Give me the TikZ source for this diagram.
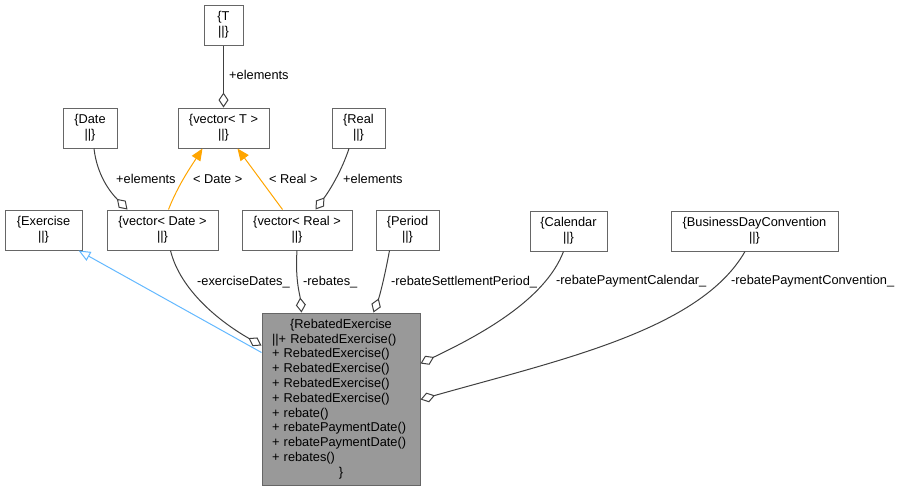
\documentclass[tikz,border=0pt]{standalone}
\usepackage{fontspec}
\setmainfont{Liberation Sans}
\usetikzlibrary{arrows.meta,calc}
\definecolor{boxc}{HTML}{666666}
\definecolor{edgec}{HTML}{404040}
\definecolor{mainfill}{HTML}{999999}
\definecolor{tmplc}{HTML}{FFA500}
\definecolor{inhc}{HTML}{63B8FF}
\begin{document}
\begin{tikzpicture}[x=1pt,y=-1pt,
  every node/.style={font=\fontsize{12.8}{14.8}\selectfont},
  cls/.style={draw=boxc,line width=1pt,fill=white,minimum height=40pt,inner sep=0pt,align=center},
  agg/.style={draw=edgec,line width=1pt,-{Diamond[open,length=15pt,width=10pt]}},
  tmpl/.style={draw=tmplc,line width=1pt,-{Triangle[length=12pt,width=10pt,fill=tmplc]}},
  inh/.style={draw=inhc,line width=1pt,-{Triangle[open,length=12pt,width=10pt,fill=white]}},
  lbl/.style={anchor=base west,inner sep=0pt}]
\useasboundingbox (0,0) rectangle (900,491);

\node[cls,minimum width=39pt] (T) at (223.5,25) {\{T\\||\}};
\node[cls,minimum width=91pt] (vT) at (223.5,128) {\{vector< T >\\||\}};
\node[cls,minimum width=54pt] (Date) at (90,128) {\{Date\\||\}};
\node[cls,minimum width=53pt] (Real) at (358.5,128) {\{Real\\||\}};
\node[cls,minimum width=77pt] (Ex) at (43.5,230) {\{Exercise\\||\}};
\node[cls,minimum width=111pt] (vDate) at (162.5,230) {\{vector< Date >\\||\}};
\node[cls,minimum width=110pt] (vReal) at (297,230) {\{vector< Real >\\||\}};
\node[cls,minimum width=63pt] (Per) at (407.5,230) {\{Period\\||\}};
\node[cls,minimum width=77pt] (Cal) at (568.5,231) {\{Calendar\\||\}};
\node[cls,minimum width=167pt] (BDC) at (754.5,231) {\{BusinessDayConvention\\||\}};

\node[draw=boxc,line width=1pt,fill=mainfill,minimum width=158pt,minimum height=172pt,
      inner xsep=10pt,inner ysep=0pt,text width=138pt,align=left] (RE) at (341,399)
{{\centering\{RebatedExercise\par}
||+ RebatedExercise()\\
+ RebatedExercise()\\
+ RebatedExercise()\\
+ RebatedExercise()\\
+ RebatedExercise()\\
+ rebate()\\
+ rebatePaymentDate()\\
+ rebatePaymentDate()\\
+ rebates()\par
{\centering\}\par}};

% T -> vector<T>
\draw[agg] (T.south) -- (vT.north);
\node[lbl] (l1) at (229,79.5) {+elements};

% Date -> vector<Date>
\draw[agg] ([xshift=4pt]Date.south) .. controls (97,175) and (110,192) .. ([xshift=21pt]vDate.north west);
\node[lbl] (l2) at (116,183.5) {+elements};

% vector<Date> -> vector<T>
\draw[tmpl] ([xshift=62pt]vDate.north west) .. controls (178,185) and (192,165) .. ([xshift=25pt]vT.south west);
\node[lbl] (l3) at (193,183.5) {< Date >};

% vector<Real> -> vector<T>
\draw[tmpl] ([xshift=41pt]vReal.north west) -- ([xshift=60pt]vT.south west);
\node[lbl] (l4) at (269,183.5) {< Real >};

% Real -> vector<Real>
\draw[agg] ([xshift=-9.5pt]Real.south) .. controls (342,170) and (330,190) .. ([xshift=74pt]vReal.north west);
\node[lbl] (l5) at (343,183.5) {+elements};

% RebatedExercise -> Exercise (inheritance)
\draw[inh] ([yshift=-40pt]RE.north west) -- ([xshift=-4pt]Ex.south east);

% vector<Date> -> RebatedExercise
\draw[agg] ([xshift=8pt]vDate.south) .. controls (180,290) and (220,322) .. ([yshift=-33pt]RE.north west);
\node[lbl] (l6) at (197,285.5) {-exerciseDates\_};

% vector<Real> -> RebatedExercise
\draw[agg] (vReal.south) .. controls (295,280) and (300,295) .. ([xshift=40pt]RE.north west);
\node[lbl] (l7) at (303,285.5) {-rebates\_};

% Period -> RebatedExercise
\draw[agg] ([xshift=-18pt]Per.south) .. controls (385,275) and (380,295) .. ([xshift=112pt]RE.north west);
\node[lbl] (l8) at (391,285.5) {-rebateSettlementPeriod\_};

% Calendar -> RebatedExercise
\draw[agg] ([xshift=-5pt]Cal.south) .. controls (545,300) and (480,335) .. ([yshift=-51pt]RE.north east);
\node[lbl] (l9) at (556,284.5) {-rebatePaymentCalendar\_};

% BusinessDayConvention -> RebatedExercise
\draw[agg] ([xshift=-9.5pt]BDC.south) .. controls (700,330) and (560,360) .. ([yshift=-87pt]RE.north east);
\node[lbl] (l10) at (731,284.5) {-rebatePaymentConvention\_};
\end{tikzpicture}
\end{document}
